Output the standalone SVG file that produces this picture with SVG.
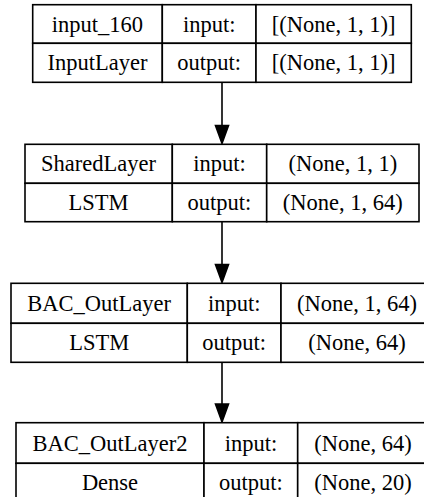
<svg xmlns="http://www.w3.org/2000/svg" width="424" height="497" viewBox="0 0 424 497">
  <style>
    .cell { fill: #ffffff; stroke: #000000; stroke-width: 1.6; }
    .lbl { font-family: "Liberation Serif", "Times New Roman", serif; font-size: 22.5px; fill: #000000; text-anchor: middle; }
    .edge { stroke: #000000; stroke-width: 1.6; fill: none; }
    .head { fill: #000000; stroke: #000000; stroke-width: 1.6; }
  </style>

  <!-- connectors -->
  <g id="edges">
    <line class="edge" x1="222" y1="82.3" x2="222" y2="125.5"/>
    <polygon class="head" points="215.5,125.5 228.5,125.5 222,143.5"/>
    <line class="edge" x1="222" y1="221.7" x2="222" y2="264.5"/>
    <polygon class="head" points="215.5,264.5 228.5,264.5 222,282.5"/>
    <line class="edge" x1="222" y1="362.3" x2="222" y2="404"/>
    <polygon class="head" points="215.5,404 228.5,404 222,422"/>
  </g>

  <!-- input layer -->
  <g id="input_160">
    <rect class="cell" x="32.7" y="4.7" width="129.6" height="38.6"/>
    <rect class="cell" x="162.3" y="4.7" width="93.7" height="38.6"/>
    <rect class="cell" x="256" y="4.7" width="155.3" height="38.6"/>
    <rect class="cell" x="32.7" y="43.3" width="129.6" height="39"/>
    <rect class="cell" x="162.3" y="43.3" width="93.7" height="39"/>
    <rect class="cell" x="256" y="43.3" width="155.3" height="39"/>
    <text class="lbl" x="97.5" y="31.5">input_160</text>
    <text class="lbl" x="209.2" y="31.5">input:</text>
    <text class="lbl" x="333.6" y="31.5">[(None, 1, 1)]</text>
    <text class="lbl" x="97.5" y="70.3">InputLayer</text>
    <text class="lbl" x="209.2" y="70.3">output:</text>
    <text class="lbl" x="333.6" y="70.3">[(None, 1, 1)]</text>
  </g>

  <!-- shared LSTM -->
  <g id="SharedLayer">
    <rect class="cell" x="25" y="144.3" width="147.3" height="39"/>
    <rect class="cell" x="172.3" y="144.3" width="94.4" height="39"/>
    <rect class="cell" x="266.7" y="144.3" width="152.3" height="39"/>
    <rect class="cell" x="25" y="183.3" width="147.3" height="38.4"/>
    <rect class="cell" x="172.3" y="183.3" width="94.4" height="38.4"/>
    <rect class="cell" x="266.7" y="183.3" width="152.3" height="38.4"/>
    <text class="lbl" x="98.6" y="171.3">SharedLayer</text>
    <text class="lbl" x="219.5" y="171.3">input:</text>
    <text class="lbl" x="342.8" y="171.3">(None, 1, 1)</text>
    <text class="lbl" x="98.6" y="210">LSTM</text>
    <text class="lbl" x="219.5" y="210">output:</text>
    <text class="lbl" x="342.8" y="210">(None, 1, 64)</text>
  </g>

  <!-- BAC output LSTM -->
  <g id="BAC_OutLayer">
    <rect class="cell" x="11" y="283.3" width="176.3" height="40"/>
    <rect class="cell" x="187.3" y="283.3" width="93.7" height="40"/>
    <rect class="cell" x="281" y="283.3" width="152" height="40"/>
    <rect class="cell" x="11" y="323.3" width="176.3" height="39"/>
    <rect class="cell" x="187.3" y="323.3" width="93.7" height="39"/>
    <rect class="cell" x="281" y="323.3" width="152" height="39"/>
    <text class="lbl" x="99.2" y="310.8">BAC_OutLayer</text>
    <text class="lbl" x="234.2" y="310.8">input:</text>
    <text class="lbl" x="357" y="310.8">(None, 1, 64)</text>
    <text class="lbl" x="99.2" y="350.3">LSTM</text>
    <text class="lbl" x="234.2" y="350.3">output:</text>
    <text class="lbl" x="357" y="350.3">(None, 64)</text>
  </g>

  <!-- BAC dense head -->
  <g id="BAC_OutLayer2">
    <rect class="cell" x="16" y="422.7" width="188" height="40.6"/>
    <rect class="cell" x="204" y="422.7" width="93.7" height="40.6"/>
    <rect class="cell" x="297.7" y="422.7" width="130.3" height="40.6"/>
    <rect class="cell" x="16" y="463.3" width="188" height="39"/>
    <rect class="cell" x="204" y="463.3" width="93.7" height="39"/>
    <rect class="cell" x="297.7" y="463.3" width="130.3" height="39"/>
    <text class="lbl" x="110" y="450.5">BAC_OutLayer2</text>
    <text class="lbl" x="250.9" y="450.5">input:</text>
    <text class="lbl" x="362.9" y="450.5">(None, 64)</text>
    <text class="lbl" x="110" y="490.3">Dense</text>
    <text class="lbl" x="250.9" y="490.3">output:</text>
    <text class="lbl" x="362.9" y="490.3">(None, 20)</text>
  </g>
</svg>
